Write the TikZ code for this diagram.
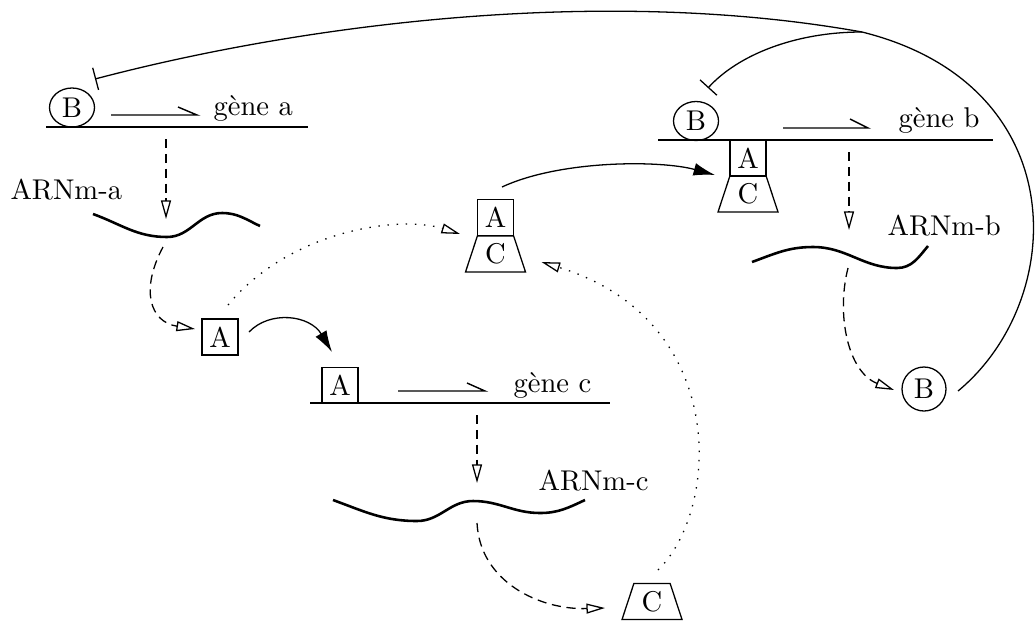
\documentclass[tikz,border=0pt]{standalone}
\usepackage{fontspec}
\usetikzlibrary{arrows.meta,shapes.geometric}
\begin{document}
\begin{tikzpicture}[x=0.35pt,y=-0.35pt,
  gene/.style={line width=0.9pt},
  mrna/.style={line width=0.9pt},
  prom/.style={line width=0.5pt},
  conn/.style={line width=0.45pt},
  abox/.style={draw, rectangle, minimum size=12.6pt, inner sep=0pt, line width=0.45pt},
  cbox/.style={draw, trapezium, trapezium left angle=72, trapezium right angle=72,
    trapezium stretches=true, minimum width=21pt, minimum height=12.6pt, inner sep=0pt, line width=0.45pt},
  bnode/.style={draw, ellipse, minimum width=15.75pt, minimum height=13.65pt, inner sep=0pt, line width=0.45pt},
  bcirc/.style={draw, circle, minimum size=15.4pt, inner sep=0pt, line width=0.45pt},
  opentip/.style={-{Triangle[open,length=6.5pt,width=3.5pt]}},
  dasharrow/.style={conn, opentip, dash pattern=on 3.2pt off 2pt},
  dotarrow/.style={conn, opentip, dash pattern=on 0.5pt off 2.7pt},
  act/.style={conn, -{Latex[length=7.5pt,width=4.5pt]}},
  inhib/.style={conn, -{Bar[width=8pt]}},
  lbl/.style={anchor=base west, inner sep=0pt}
]
\useasboundingbox (0,0) rectangle (1035,623);

% ---------------- gene a ----------------
\draw[gene] (46,127) -- (308,127);
\draw[prom] (111,115) -- (197,115) -- (178,107);
\node[lbl] (ga-lbl) at (213,115) {gène a};
\node[bnode] (Ba) at (72,107.5) {B};
\coordinate (ga-out) at (166,139);
\coordinate (ma-in) at (166,219);
\draw[mrna] (93,214) to[out=-20,in=180] (167,237) to[out=0,in=180] (222,213) to[out=0,in=155] (260,226);
\node[lbl] (ma-lbl) at (10,199) {ARNm-a};
\coordinate (ma-out) at (163,247);

% ---------------- gene b ----------------
\draw[gene] (658,140) -- (993,140);
\draw[prom] (783,128) -- (868,128) -- (850,119);
\node[lbl] (gb-lbl) at (898,127) {gène b};
\node[bnode] (Bb) at (696,121) {B};
\node[abox] (Ab) at (748,158) {A};
\node[cbox] (Cb) at (748,194) {C};
\coordinate (gb-out) at (849,152);
\coordinate (mb-in) at (849,230);
\draw[mrna] (752,262) to[out=20,in=180] (813,247) to[out=0,in=180] (897,268) to[out=0,in=-130] (928,246);
\node[lbl] (mb-lbl) at (887,235) {ARNm-b};
\coordinate (mb-out) at (848,268);

% ---------------- gene c ----------------
\draw[gene] (310,403) -- (610,403);
\draw[prom] (398,391) -- (485,391) -- (467,383);
\node[lbl] (gc-lbl) at (513,392) {gène c};
\node[abox] (A2) at (340,385.5) {A};
\coordinate (gc-out) at (477,415);
\coordinate (mc-in) at (477,483);
\draw[mrna] (333,500) to[out=-20,in=180] (417,521) to[out=0,in=180] (473,501) to[out=0,in=180] (540,513) to[out=0,in=-155] (585,500);
\node[lbl] (mc-lbl) at (538,490) {ARNm-c};
\coordinate (mc-out) at (477,523);

% ---------------- free proteins ----------------
\node[abox] (A1) at (220,337) {A};
\node[abox] (Af) at (495.5,217.5) {A};
\node[cbox] (Cf) at (495.5,254) {C};
\node[cbox] (C1) at (652,601.5) {C};
\node[bcirc] (B3) at (924,389) {B};

% ---------------- transcription / translation ----------------
\draw[dasharrow] (ga-out) -- (ma-in);
\draw[dasharrow] (gb-out) -- (mb-in);
\draw[dasharrow] (gc-out) -- (mc-in);
\draw[dasharrow] (ma-out) .. controls (140,290) and (150,322) .. ([shift={(-25,-8)}]A1.center);
\draw[dasharrow] (mb-out) .. controls (836,315) and (848,372) .. ([shift={(-30,1)}]B3.center);
\draw[dasharrow] (mc-out) .. controls (480,582) and (540,610) .. ([shift={(-47,6.5)}]C1.center);

% ---------------- complex formation ----------------
\draw[dotarrow] ([shift={(8,-32)}]A1.center) .. controls (290,230) and (400,215) .. ([shift={(-35.5,16.5)}]Af.center);
\draw[dotarrow] ([shift={(6,-31.5)}]C1.center) .. controls (720,510) and (730,320) .. ([shift={(46,8)}]Cf.center);

% ---------------- activation ----------------
\draw[act] ([shift={(29,-5)}]A1.center) .. controls (270,310) and (310,315) .. ([shift={(-8,-33.5)}]A2.center);
\draw[act] ([shift={(6.5,-30.5)}]Af.center) .. controls (560,160) and (660,160) .. ([shift={(-33,17)}]Ab.center);

% ---------------- inhibition ----------------
\coordinate (J) at (862,32);
\draw[inhib] ([shift={(34,2)}]B3.center) .. controls (1068,300) and (1075,85) .. (J)
  .. controls (600,-15) and (300,25) .. ([shift={(23,-28.5)}]Ba.center);
\draw[inhib] (J) .. controls (795,32) and (738,55) .. ([shift={(12,-33)}]Bb.center);
\end{tikzpicture}
\end{document}
